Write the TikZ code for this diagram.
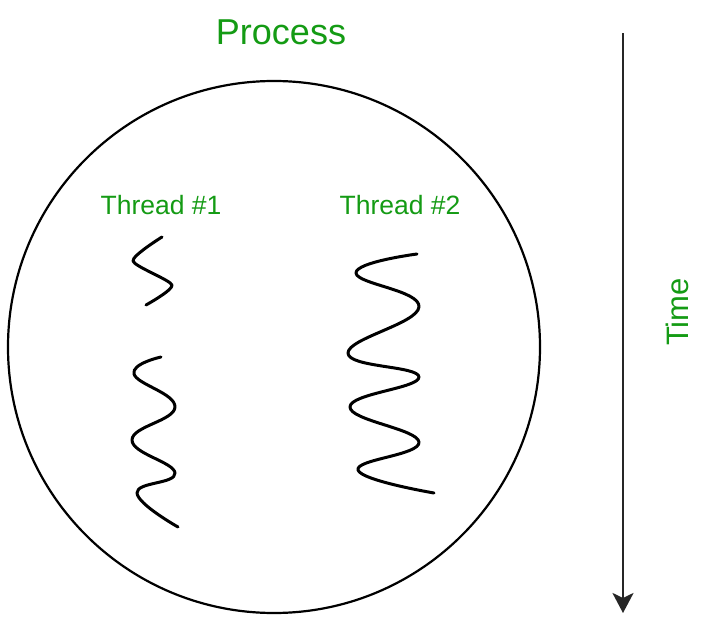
\documentclass[tikz,border=0pt]{standalone}
\usepackage{fontspec}
\setmainfont{Liberation Sans}
\usetikzlibrary{arrows.meta}
\definecolor{lblgreen}{RGB}{20,155,20}
\tikzset{
  lbl/.style={text=lblgreen, inner sep=0pt, anchor=base},
  wave/.style={line width=3pt, line cap=round, line join=round},
}
\begin{document}
\begin{tikzpicture}[x=1pt,y=-1pt]
\useasboundingbox (0,0) rectangle (705,629);
\fill[white] (0,0) rectangle (705,629);
% process circle
\node[circle, draw, line width=2.2pt, minimum size=532pt, inner sep=0pt] (proc) at (274,347) {};
% labels
\node[lbl, font=\fontsize{36}{40}\selectfont] (ptitle) at (281,45) {Process};
\node[lbl, font=\fontsize{26.5}{30}\selectfont] (t1) at (161,214) {Thread \#1};
\node[lbl, font=\fontsize{26.5}{30}\selectfont] (t2) at (400,214) {Thread \#2};
\node[lbl, font=\fontsize{31}{34}\selectfont, rotate=90] (time) at (688,312) {Time};
% time arrow
\coordinate (tstart) at (623,33);
\coordinate (tend) at (623,613);
\draw[line width=2.6pt, draw=black!85, -{Stealth[length=20pt,width=21pt,inset=5pt]}] (tstart) -- (tend);
% thread 1 squiggles
\draw[wave] plot[smooth, tension=0.4] coordinates {(162,237) (133,261) (172,285) (146,305)};
\draw[wave] plot[smooth, tension=0.75] coordinates {(161,357) (134,374) (175,407) (132,440) (175,473) (137,493) (178,527)};
% thread 2 squiggle
\draw[wave] plot[smooth, tension=0.75] coordinates {(417,254) (356,273) (419,307) (348,353) (419,377) (350,407) (419,442) (358,470) (434,493)};
\end{tikzpicture}
\end{document}
